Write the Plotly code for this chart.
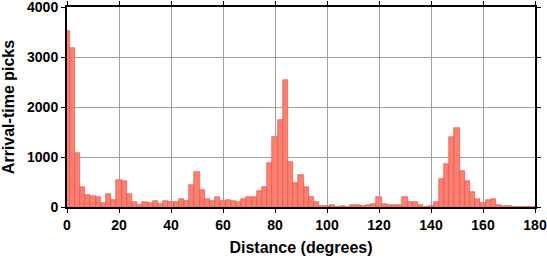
import plotly.graph_objects as go

# Bin centres (degrees), 2-degree bins
centers = list(range(0, 182, 2))
counts = [
    3525, 3188, 1080, 404, 245, 225, 205, 86, 265, 139,      # 0-18
    543, 524, 265, 93, 40, 106, 86, 119, 66, 119,            # 20-38
    110, 106, 159, 119, 444, 702, 338, 159, 119, 205,        # 40-58
    119, 139, 119, 106, 159, 192, 199, 318, 398, 881,        # 60-78
    1398, 1736, 2531, 901, 484, 643, 404, 199, 106, 27,      # 80-98
    27, 46, 7, 27, 7, 46, 46, 13, 46, 66,                    # 100-118
    205, 66, 46, 46, 46, 205, 106, 106, 46, 7,               # 120-138
    27, 106, 563, 861, 1392, 1577, 722, 524, 298, 166,       # 140-158
    86, 139, 159, 40, 27, 27, 7, 0, 0, 0,                    # 160-178
    0,                                                       # 180
]
xticks = list(range(0, 181, 20))
yticks = list(range(0, 4001, 1000))

fig = go.Figure()
fig.add_trace(go.Bar(
    x=centers, y=counts, width=2,
    marker=dict(color="rgb(250,128,114)",
                line=dict(color="rgb(238,70,60)", width=0.6)),
))

font = dict(family="Liberation Sans, Arial, sans-serif", color="black")
axis_common = dict(
    showline=True, linecolor="black", linewidth=2, mirror="ticks",
    ticks="outside", ticklen=4, tickcolor="black", tickwidth=1,
    showgrid=True, gridcolor="rgb(160,160,160)", gridwidth=1,
    zeroline=False, automargin=False, ticklabeloverflow="allow",
    tickfont=dict(size=14, **font),
)
fig.update_layout(
    width=547, height=258,
    margin=dict(l=67, r=12, t=7, b=51),
    paper_bgcolor="white", plot_bgcolor="white",
    showlegend=False, bargap=0,
    xaxis=dict(range=[0, 180], tickvals=xticks,
               ticktext=[f"<b>{v}</b>" for v in xticks],
               title=dict(text="<b>Distance (degrees)</b>",
                          font=dict(size=16, **font), standoff=10),
               **axis_common),
    yaxis=dict(range=[0, 4000], tickvals=yticks,
               ticktext=[f"<b>{v}</b>" for v in yticks],
               title=dict(text="<b>Arrival-time picks</b>",
                          font=dict(size=16, **font), standoff=8),
               **axis_common),
)
fig.write_html("out.html")
